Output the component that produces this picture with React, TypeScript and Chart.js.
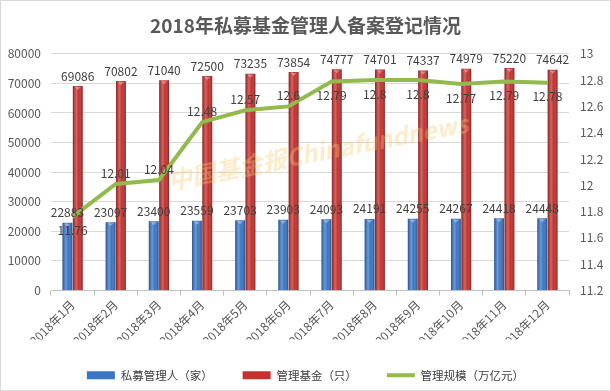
import React, { useEffect, useRef } from "react";
import { Chart, registerables } from "chart.js";

Chart.register(...registerables);

const months = [
  "2018年1月", "2018年2月", "2018年3月", "2018年4月", "2018年5月", "2018年6月",
  "2018年7月", "2018年8月", "2018年9月", "2018年10月", "2018年11月", "2018年12月",
];
const managers = [22883, 23097, 23400, 23559, 23703, 23903, 24093, 24191, 24255, 24267, 24418, 24448];
const funds = [69086, 70802, 71040, 72500, 73235, 73854, 74777, 74701, 74337, 74979, 75220, 74642];
const scaleTrillion = [11.76, 12.01, 12.04, 12.48, 12.57, 12.6, 12.79, 12.8, 12.8, 12.77, 12.79, 12.78];

const titleText = "2018年私募基金管理人备案登记情况";
const seriesNames = ["私募管理人（家）", "管理基金（只）", "管理规模（万亿元）"];
const watermarkText = "中国基金报Chinafundnews";

const FONT = '"Microsoft YaHei", "Noto Sans CJK SC", sans-serif';
const TEXT = "#404040";
const AXIS_TEXT = "#595959";

const barShade = {
  id: "barShade",
  afterDatasetDraw(chart: any, args: any) {
    const meta = args.meta;
    if (meta.type !== "bar") return;
    const ctx = chart.ctx;
    ctx.save();
    meta.data.forEach((el: any) => {
      const { x, y, base, width } = el.getProps(["x", "y", "base", "width"], true);
      const left = x - width / 2;
      const g = ctx.createLinearGradient(left, 0, left + width, 0);
      g.addColorStop(0, "rgba(0,0,0,0.28)");
      g.addColorStop(0.35, "rgba(255,255,255,0.25)");
      g.addColorStop(0.6, "rgba(255,255,255,0.0)");
      g.addColorStop(1, "rgba(0,0,0,0.35)");
      ctx.fillStyle = g;
      ctx.fillRect(left, y, width, base - y);
      ctx.fillStyle = "rgba(255,255,255,0.35)";
      ctx.beginPath();
      ctx.moveTo(left + 2, y + 1);
      ctx.lineTo(left + width - 2, y + 1);
      ctx.lineTo(x, y + 4);
      ctx.closePath();
      ctx.fill();
    });
    ctx.restore();
  },
};

const valueLabels = {
  id: "valueLabels",
  afterDatasetsDraw(chart: any) {
    const ctx = chart.ctx;
    ctx.save();
    ctx.font = `12px ${FONT}`;
    ctx.fillStyle = TEXT;
    ctx.textAlign = "center";
    chart.data.datasets.forEach((ds: any, di: number) => {
      const meta = chart.getDatasetMeta(di);
      meta.data.forEach((el: any, i: number) => {
        const v = ds.data[i];
        if (meta.type === "bar") {
          ctx.textBaseline = "bottom";
          ctx.fillText(String(v), el.x, el.y - 4);
        } else {
          const below = i === 0 || v >= 12.7;
          ctx.textBaseline = "middle";
          ctx.fillText(String(v), el.x, below ? el.y + 14 : el.y - 11);
        }
      });
    });
    ctx.restore();
  },
};

const decor = {
  id: "decor",
  afterDraw(chart: any) {
    const ctx = chart.ctx;
    ctx.save();
    ctx.translate(318, 152);
    ctx.rotate(-0.19);
    ctx.font = `italic bold 24px ${FONT}`;
    ctx.textAlign = "center";
    ctx.textBaseline = "middle";
    ctx.fillStyle = "rgba(250, 200, 110, 0.35)";
    ctx.fillText(watermarkText, 0, 0);
    ctx.restore();
    ctx.save();
    ctx.strokeStyle = "#d9d9d9";
    ctx.lineWidth = 1;
    ctx.strokeRect(0.5, 0.5, chart.width - 1, chart.height - 1);
    ctx.restore();
  },
};

export default function App() {
  const ref = useRef<HTMLCanvasElement | null>(null);

  useEffect(() => {
    document.body.style.margin = "0";
    const canvas = ref.current;
    if (!canvas) return;
    const chart = new Chart(canvas, {
      type: "bar",
      data: {
        labels: months,
        datasets: [
          {
            type: "bar",
            label: seriesNames[0],
            data: managers,
            backgroundColor: "#3A76C6",
            borderWidth: 0,
            yAxisID: "y",
            order: 1,
            categoryPercentage: 0.48,
            barPercentage: 0.95,
            pointStyle: "rect",
          },
          {
            type: "bar",
            label: seriesNames[1],
            data: funds,
            backgroundColor: "#C4322F",
            borderWidth: 0,
            yAxisID: "y",
            order: 1,
            categoryPercentage: 0.48,
            barPercentage: 0.95,
            pointStyle: "rect",
          },
          {
            type: "line",
            label: seriesNames[2],
            data: scaleTrillion,
            borderColor: "#92BA4D",
            backgroundColor: "#92BA4D",
            borderWidth: 4,
            pointRadius: 0,
            pointStyle: "line",
            tension: 0,
            yAxisID: "y1",
            order: 0,
          },
        ],
      },
      options: {
        responsive: false,
        animation: false,
        devicePixelRatio: 1,
        layout: { padding: { left: 0, right: 0, top: 0, bottom: 0 } },
        plugins: {
          title: {
            display: true,
            text: titleText,
            color: AXIS_TEXT,
            font: { family: FONT, size: 19, weight: "bold" },
            padding: { top: 14, bottom: 17 },
          },
          legend: {
            position: "bottom",
            labels: {
              usePointStyle: true,
              pointStyleWidth: 28,
              boxHeight: 8,
              padding: 30,
              color: TEXT,
              font: { family: FONT, size: 11.5 },
              sort: (a: any, b: any) => a.datasetIndex - b.datasetIndex,
            },
          },
          tooltip: { enabled: false },
        },
        scales: {
          x: {
            offset: true,
            grid: {
              offset: true,
              drawOnChartArea: false,
              drawTicks: true,
              tickLength: 5,
              color: "#bfbfbf",
            },
            border: { color: "#bfbfbf" },
            ticks: {
              color: AXIS_TEXT,
              font: { family: FONT, size: 12 },
              minRotation: 45,
              maxRotation: 45,
              autoSkip: false,
              padding: 2,
            },
            afterFit: (s: any) => {
              s.height = 49;
            },
          },
          y: {
            position: "left",
            min: 0,
            max: 80000,
            grid: { color: "#d9d9d9", drawTicks: false },
            border: { display: false },
            ticks: {
              stepSize: 10000,
              color: AXIS_TEXT,
              font: { family: FONT, size: 12 },
              padding: 10,
              callback: (v: any) => String(v),
            },
            afterFit: (s: any) => {
              s.width = 51;
            },
          },
          y1: {
            position: "right",
            min: 11.2,
            max: 13,
            grid: { display: false, drawTicks: false },
            border: { display: false },
            ticks: {
              stepSize: 0.2,
              color: AXIS_TEXT,
              font: { family: FONT, size: 12 },
              padding: 11,
              callback: (v: any) => String(Math.round(Number(v) * 10) / 10),
            },
            afterFit: (s: any) => {
              s.width = 42;
            },
          },
        },
      },
      plugins: [barShade, valueLabels, decor],
    } as any);
    return () => chart.destroy();
  }, []);

  return (
    <div style={{ width: 611, height: 391 }}>
      <canvas ref={ref} width={611} height={391} />
    </div>
  );
}
